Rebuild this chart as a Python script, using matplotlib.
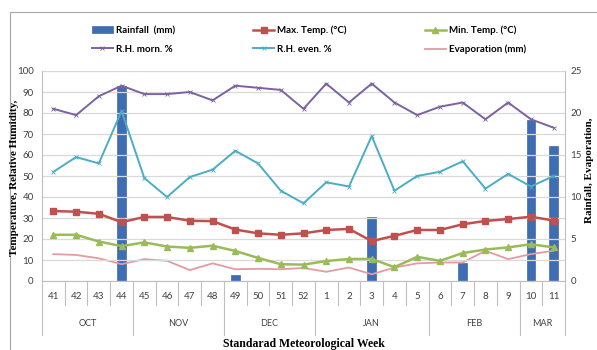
import numpy as np
import matplotlib
matplotlib.use("Agg")
import matplotlib.pyplot as plt
import matplotlib.transforms as mtrans
from matplotlib.patches import Rectangle

weeks = ['41', '42', '43', '44', '45', '46', '47', '48', '49', '50', '51', '52',
         '1', '2', '3', '4', '5', '6', '7', '8', '9', '10', '11']
months = ['OCT', 'NOV', 'DEC', 'JAN', 'FEB', 'MAR']
month_len = [4, 4, 4, 5, 4, 2]

rainfall = [0, 0, 0, 23.2, 0, 0, 0, 0, 0.7, 0, 0, 0,
            0, 0, 7.6, 0, 0, 0, 2.2, 0, 0, 19.2, 16.1]
max_temp = [33.3, 33, 32, 28, 30.5, 30.5, 28.7, 28.5, 24.5, 22.7, 22, 22.7,
            24.3, 24.8, 19, 21.5, 24.3, 24.3, 27, 28.6, 29.5, 30.6, 28.8]
min_temp = [22, 22, 18.8, 16.6, 18.4, 16.4, 15.8, 16.8, 14.3, 11, 8, 7.8,
            9.5, 10.5, 10.5, 6.6, 11.5, 9.6, 13.3, 15, 16, 17.5, 16]
rh_morn = [82, 79, 88, 93, 89, 89, 90, 86, 93, 92, 91, 82,
           94, 85, 94, 85, 79, 83, 85, 77, 85, 77, 73]
rh_even = [52, 59, 56, 81, 49, 40, 49.5, 53, 62, 56, 43, 37,
           47, 45, 69, 43, 50, 52, 57, 44, 51, 45, 50]
evaporation = [3.2, 3.1, 2.7, 2.0, 2.6, 2.4, 1.3, 2.1, 1.4, 1.45, 1.4, 1.55,
               1.1, 1.6, 0.8, 1.6, 2.1, 2.2, 2.2, 3.6, 2.6, 3.2, 3.6]

W, H = 597, 350
fig = plt.figure(figsize=(W / 100, H / 100), dpi=100)
fig.patches.append(Rectangle((10 / W, -0.1), 1.2, 1 - 12 / H + 0.1,
                             transform=fig.transFigure, fill=False,
                             edgecolor='#a6a6a6', linewidth=0.8))

ax = fig.add_axes([42 / W, 1 - 281 / H, (565 - 42) / W, 210 / H])
ax2 = ax.twinx()
ax.set_zorder(ax2.get_zorder() + 1)
ax.patch.set_visible(False)

x = np.arange(len(weeks))
tickfont = dict(family='Lato', size=7, color='#404040')

bars = ax2.bar(x, rainfall, width=0.38, color='#3F6DB3', edgecolor='#2F5597',
               linewidth=0.4, label='Rainfall  (mm)')
ev, = ax2.plot(x, evaporation, color='#E39AA2', linewidth=1.3,
               label='Evaporation (mm)')
ax2.set_ylim(0, 25)
ax2.set_yticks(range(0, 26, 5))

mx, = ax.plot(x, max_temp, color='#C0504D', linewidth=1.8, marker='s',
              markersize=5, label='Max. Temp. (°C)')
mn, = ax.plot(x, min_temp, color='#9BBB59', linewidth=1.8, marker='^',
              markersize=5, label='Min. Temp. (°C)')
rm, = ax.plot(x, rh_morn, color='#7B62A0', linewidth=1.4, marker='x',
              markersize=3, markeredgewidth=0.6, label='R.H. morn. %')
re, = ax.plot(x, rh_even, color='#4BACC6', linewidth=1.4, marker='x',
              markersize=3, markeredgewidth=0.6, label='R.H. even. %')

ax.set_ylim(0, 100)
ax.set_yticks(range(0, 101, 10))
ax.set_xlim(-0.5, len(weeks) - 0.5)
ax.grid(axis='y', color='#d9d9d9', linewidth=0.9)
ax.set_axisbelow(True)

for a in (ax, ax2):
    for s in a.spines.values():
        s.set_visible(False)
    for lab in a.get_yticklabels():
        lab.set_fontproperties(tickfont['family'])
        lab.set_fontsize(tickfont['size'])
        lab.set_color(tickfont['color'])
ax.tick_params(axis='y', length=0, pad=6)
ax2.tick_params(axis='y', length=0, pad=4)
for side in ('bottom', 'left', 'right'):
    ax.spines[side].set_visible(True)
    ax.spines[side].set_color('#bfbfbf')

# category axis: week labels and month groups
ax.set_xticks([])
trans = mtrans.blended_transform_factory(ax.transData, ax.transAxes)
for i, w in enumerate(weeks):
    ax.text(i, -0.075, w, transform=trans, ha='center', va='center',
            fontfamily='Lato', fontsize=7, color='#404040')
bounds = np.concatenate([[0], np.cumsum(month_len)]) - 0.5
for b in np.arange(-0.5, len(weeks), 1.0):
    lo = -0.257 if np.any(np.isclose(bounds, b)) else -0.115
    ax.plot([b, b], [0, lo], transform=trans, color='#bfbfbf',
            linewidth=0.8, clip_on=False)
for m, a0, a1 in zip(months, bounds[:-1], bounds[1:]):
    ax.text((a0 + a1) / 2, -0.2, m, transform=trans, ha='center',
            va='center', fontfamily='Lato', fontsize=6.5, color='#404040')

ax.text(0.5, -0.3, 'Standarad Meteorological Week', transform=ax.transAxes,
        ha='center', va='center', fontfamily='Liberation Serif',
        fontweight='bold', fontsize=8.5)
fig.text(15 / W, 1 - 178 / H, 'Temperature, Relative Humidity,',
         rotation=90, ha='center', va='center', fontfamily='Liberation Serif',
         fontweight='bold', fontsize=8)
fig.text(590 / W, 1 - 170 / H, 'Rainfall, Evaporation,',
         rotation=90, ha='center', va='center', fontfamily='Liberation Serif',
         fontweight='bold', fontsize=8)

handles = [bars, rm, mx, re, mn, ev]
leg = fig.legend(handles=handles, labels=[h.get_label() for h in handles],
                 ncol=3, loc='center left', bbox_to_anchor=(83 / W, 1 - 40 / H),
                 frameon=False, handlelength=2.2,
                 columnspacing=8, labelspacing=1.0, handletextpad=0.3,
                 prop={'family': 'Lato', 'size': 7, 'weight': 'bold'})

fig.savefig('out.png', dpi=100)
